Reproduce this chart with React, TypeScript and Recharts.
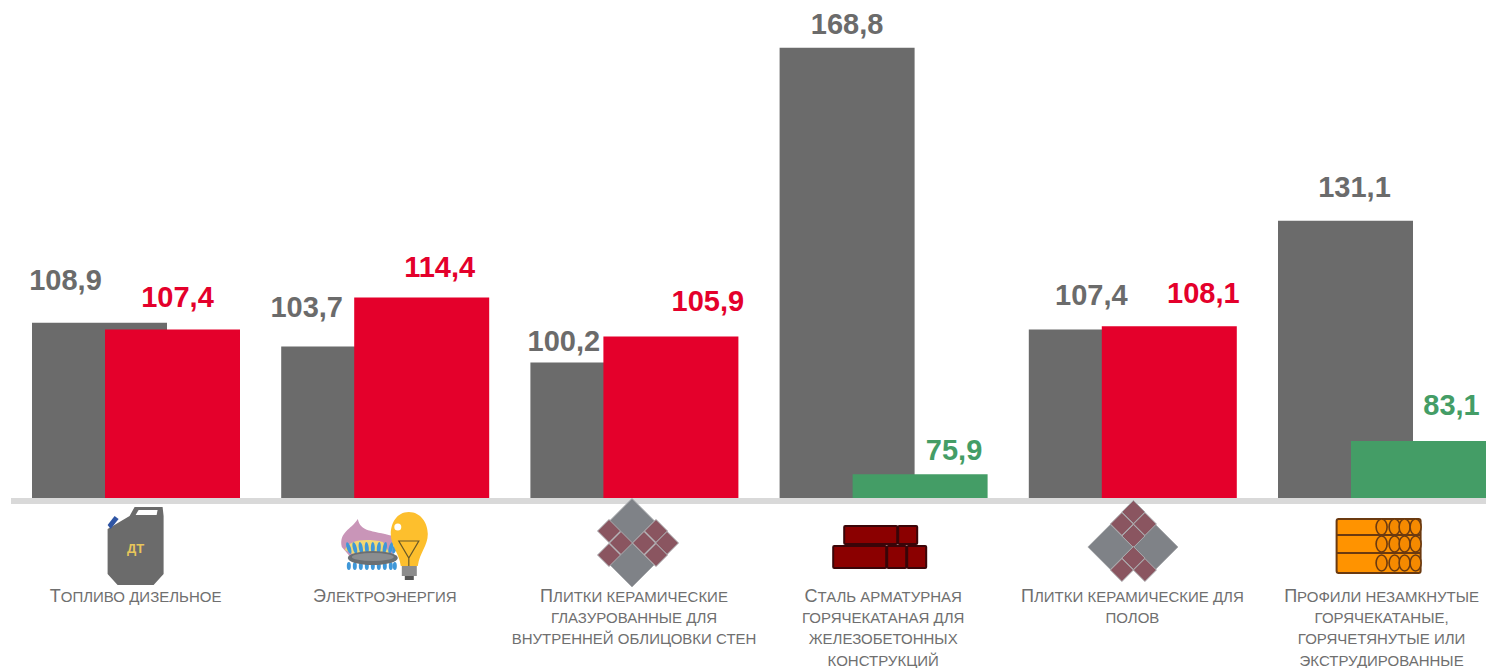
import React from "react";
import { BarChart, Bar, XAxis, YAxis, Cell, LabelList } from "recharts";

const categories = [
  "Топливо дизельное",
  "Электроэнергия",
  "Плитки керамические глазурованные для внутренней облицовки стен",
  "Сталь арматурная горячекатаная для железобетонных конструкций",
  "Плитки керамические для полов",
  "Профили незамкнутые горячекатаные, горячетянутые или экструдированные",
];
const categoryLines = [
  ["Топливо дизельное"],
  ["Электроэнергия"],
  ["Плитки керамические", "глазурованные для", "внутренней облицовки стен"],
  ["Сталь арматурная", "горячекатаная для", "железобетонных", "конструкций"],
  ["Плитки керамические для", "полов"],
  ["Профили незамкнутые", "горячекатаные,", "горячетянутые или", "экструдированные"],
];
const greyValues = [108.9, 103.7, 100.2, 168.8, 107.4, 131.1];
const colorValues = [107.4, 114.4, 105.9, 75.9, 108.1, 83.1];

// hand placed label nudges: from bar centre, and from bar top up to text middle
const greyLabelDx = [-34, -42, -34, 0, -5, 9];
const greyLabelUp = [43, 40, 22, 24, 35, 34];
const colorLabelDx = [5, 18, 37, 34, 34, 33];
const colorLabelUp = [33, 30, 35, 24, 33, 36];

const GREY = "#6b6b6b";
const RED = "#e4002b";
const GREEN = "#449d66";
const AXIS_Y = 498;
const FONT = '"Liberation Sans", Arial, sans-serif';

const data = categories.map((name, i) => ({
  name,
  grey: greyValues[i],
  color: colorValues[i],
}));

const barColor = (v: number) => (v < 100 ? GREEN : RED);
const formatValue = (v: number) => v.toFixed(1).replace(".", ",");

/* ── icons, drawn around the tick centre with y=0 on the axis ── */

const TILE_GREY = "#7f8287";
const TILE_RED = "#8a5560";
const TILE_JOINT = "#a9abae";

function Diamond({ cx, cy, r, fill }: { cx: number; cy: number; r: number; fill: string }) {
  return (
    <polygon
      points={`${cx},${cy - r} ${cx + r},${cy} ${cx},${cy + r} ${cx - r},${cy}`}
      fill={fill}
      stroke={TILE_JOINT}
      strokeWidth={1}
    />
  );
}

function Canister() {
  return (
    <g>
      <path
        d="M-28 31 L-6 18 L-1 9 L27 9 L28 18 L28 76 L18 87 L-18 87 L-28 76 Z"
        fill={GREY}
      />
      <path d="M3 12 L22 12 L21 17 L0 17 Z" fill="#fff" />
      <path d="M-28 27 L-21 18 L-17 21 L-25 31 Z" fill="#2f55a4" />
      <text x={0} y={55} textAnchor="middle" fontFamily={FONT} fontSize={13} fontWeight="bold" fill="#e8c65a">
        ДТ
      </text>
    </g>
  );
}

function GasAndBulb() {
  const flames = [-36, -30, -24, -18, -12, -6, 0, 6, 10];
  return (
    <g>
      <path d="M-43 49 C-46 34 -34 32 -27 21 C-24 34 -14 32 8 38 L8 60 L-30 64 Z" fill="#c995b8" />
      <path d="M-40 52 C-36 42 -20 40 -2 44 L8 60 L-20 62 Z" fill="#f2d873" />
      {flames.map((dx) => (
        <g key={dx}>
          <ellipse cx={dx} cy={50} rx={2} ry={6} fill="#3f97d8" transform={`rotate(${(dx + 12) * 0.8} ${dx} 50)`} />
          <ellipse cx={dx} cy={68} rx={2} ry={4} fill="#3f97d8" />
        </g>
      ))}
      <ellipse cx={-12} cy={60} rx={25} ry={7} fill="#6a6f73" />
      <ellipse cx={-12} cy={59} rx={21} ry={4} fill="#8b8d90" />
      <path
        d="M24 14 C36 14 43 25 43 36 C43 48 35 54 33 68 L16 68 C14 54 6 48 6 36 C6 25 12 14 24 14 Z"
        fill="#fdbf2d"
      />
      <circle cx={13} cy={29} r={3.5} fill="#fff" />
      <path d="M14 43 L34 43 L24 60 Z M24 60 L24 68" fill="none" stroke="#6a5a28" strokeWidth={1.2} />
      <rect x={17} y={68} width={15} height={10} fill="#8c8c8c" />
      <rect x={20} y={78} width={9} height={4} fill="#555" />
    </g>
  );
}

function TileOne() {
  return (
    <g>
      <Diamond cx={-2} cy={23} r={22.5} fill={TILE_GREY} />
      <Diamond cx={-2} cy={67} r={22} fill={TILE_GREY} />
      {[[10, 45], [22, 33], [33, 45], [22, 57], [-13, 45], [-25, 33], [-25, 57]].map(([cx, cy]) => (
        <Diamond key={`${cx}-${cy}`} cx={cx} cy={cy} r={11.5} fill={TILE_RED} />
      ))}
    </g>
  );
}

function TileTwo() {
  return (
    <g>
      <Diamond cx={-22} cy={49} r={22.5} fill={TILE_GREY} />
      <Diamond cx={23} cy={49} r={22.5} fill={TILE_GREY} />
      {[[1, 14], [-10.5, 26], [12.5, 26], [1, 38], [1, 60], [-10.5, 72], [12.5, 72]].map(([cx, cy]) => (
        <Diamond key={`${cx}-${cy}`} cx={cx} cy={cy} r={11.5} fill={TILE_RED} />
      ))}
    </g>
  );
}

function SteelBars() {
  const boxes = [
    [-39, 28, 53, 18],
    [15, 28, 19, 18],
    [-50, 48, 53, 22],
    [4, 48, 19, 22],
    [24, 48, 19, 22],
  ];
  return (
    <g>
      {boxes.map(([x, y, w, h]) => (
        <rect key={`${x}-${y}`} x={x} y={y} width={w} height={h} rx={1} fill="#8b0000" stroke="#3a0508" strokeWidth={2} />
      ))}
    </g>
  );
}

function ProfileStack() {
  const rows = [29, 46, 65];
  const rings = [0, 13, 23, 34];
  return (
    <g>
      <rect x={-45} y={21} width={84} height={54} rx={2} fill="#ff9300" stroke="#6b3a10" strokeWidth={2} />
      {rows.map((cy) =>
        rings.map((dx) => (
          <ellipse key={`${cy}-${dx}`} cx={dx} cy={cy} rx={5.5} ry={8} fill="#f58a00" stroke="#6b3a10" strokeWidth={1.6} />
        ))
      )}
      <path d="M-45 37 H39 M-45 55 H39" stroke="#6b3a10" strokeWidth={1.8} />
    </g>
  );
}

const icons = [Canister, GasAndBulb, TileOne, SteelBars, TileTwo, ProfileStack];

/* ── x axis tick: icon with small caps text under it ── */

function smallCapsLine(line: string) {
  const first = line[0];
  if (first === first.toLowerCase()) return line.toUpperCase();
  return (
    <>
      <tspan fontSize={18}>{first}</tspan>
      {line.slice(1).toUpperCase()}
    </>
  );
}

function CategoryTick({ x, payload }: any) {
  const i = payload.index;
  const Icon = icons[i];
  return (
    <g transform={`translate(${x},${AXIS_Y})`}>
      <Icon />
      <text textAnchor="middle" fontFamily={FONT} fontSize={15} fill="#6f6f6f">
        {categoryLines[i].map((line, n) => (
          <tspan key={n} x={0} y={104 + n * 21.2}>
            {smallCapsLine(line)}
          </tspan>
        ))}
      </text>
    </g>
  );
}

/* ── value labels ── */

function makeLabel(dxList: number[], upList: number[], colorOf: (v: number) => string) {
  return function ValueLabel({ x, y, width, value, index }: any) {
    return (
      <text
        x={x + width / 2 + dxList[index]}
        y={y - upList[index] + 10}
        textAnchor="middle"
        fontFamily={FONT}
        fontSize={29}
        fontWeight="bold"
        fill={colorOf(value)}
      >
        {formatValue(value)}
      </text>
    );
  };
}

const GreyLabel = makeLabel(greyLabelDx, greyLabelUp, () => GREY);
const ColorLabel = makeLabel(colorLabelDx, colorLabelUp, barColor);

function App() {
  return (
    <div style={{ position: "absolute", left: 0, top: 0, width: 1486, height: 668, overflow: "hidden", background: "#fff" }}>
      <BarChart
        width={1520}
        height={668}
        data={data}
        barSize={135}
        barGap={-62}
        margin={{ top: 0, right: 13.8, bottom: 0, left: 11 }}
      >
        <XAxis
          dataKey="name"
          height={170}
          interval={0}
          tickLine={false}
          axisLine={{ stroke: "#d9d9d9", strokeWidth: 6, transform: "translate(0,3)" }}
          tick={(props: any) => <CategoryTick {...props} />}
        />
        <YAxis hide type="number" domain={[70.7, 179.2]} />
        <Bar dataKey="grey" fill={GREY} isAnimationActive={false}>
          <LabelList dataKey="grey" content={GreyLabel} />
        </Bar>
        <Bar dataKey="color" isAnimationActive={false}>
          {colorValues.map((v, i) => (
            <Cell key={i} fill={barColor(v)} />
          ))}
          <LabelList dataKey="color" content={ColorLabel} />
        </Bar>
      </BarChart>
    </div>
  );
}

export default App;
